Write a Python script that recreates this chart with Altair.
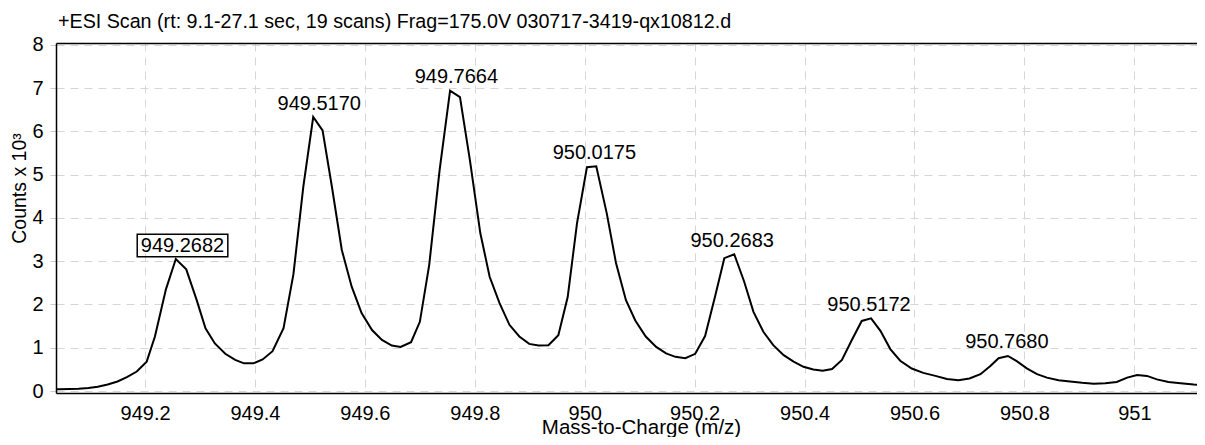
import altair as alt
import pandas as pd

mz = [949.038, 949.044, 949.062, 949.079, 949.097, 949.114, 949.132, 949.150, 949.167, 949.185,
      949.203, 949.218, 949.238, 949.256, 949.275, 949.294, 949.310, 949.327, 949.346, 949.364,
      949.380, 949.397, 949.414, 949.432, 949.452, 949.470, 949.488, 949.506, 949.523, 949.540,
      949.558, 949.576, 949.594, 949.613, 949.631, 949.649, 949.665, 949.684, 949.700, 949.717,
      949.736, 949.755, 949.773, 949.791, 949.810, 949.827, 949.845, 949.863, 949.881, 949.899,
      949.916, 949.934, 949.952, 949.969, 949.986, 950.004, 950.021, 950.040, 950.057, 950.075,
      950.092, 950.111, 950.130, 950.148, 950.165, 950.183, 950.201, 950.219, 950.237, 950.254,
      950.272, 950.290, 950.307, 950.325, 950.343, 950.362, 950.380, 950.398, 950.416, 950.433,
      950.450, 950.468, 950.486, 950.504, 950.521, 950.538, 950.556, 950.574, 950.595, 950.616,
      950.638, 950.659, 950.680, 950.700, 950.720, 950.738, 950.753, 950.770, 950.786, 950.805,
      950.823, 950.841, 950.862, 950.883, 950.905, 950.926, 950.947, 950.968, 950.987, 951.005,
      951.023, 951.041, 951.062, 951.084, 951.108, 951.129]
counts = [0.04, 0.04, 0.046, 0.054, 0.07, 0.10, 0.15, 0.22, 0.32, 0.45,
          0.68, 1.26, 2.35, 3.05, 2.81, 2.10, 1.45, 1.10, 0.86, 0.72,
          0.64, 0.64, 0.73, 0.92, 1.45, 2.70, 4.72, 6.33, 6.02, 4.72,
          3.26, 2.41, 1.80, 1.41, 1.18, 1.05, 1.02, 1.13, 1.60, 2.91,
          5.11, 6.94, 6.79, 5.34, 3.65, 2.64, 2.03, 1.53, 1.26, 1.09,
          1.05, 1.06, 1.29, 2.17, 3.88, 5.17, 5.19, 4.11, 2.95, 2.10,
          1.63, 1.26, 1.02, 0.87, 0.79, 0.76, 0.86, 1.27, 2.18, 3.07,
          3.16, 2.53, 1.83, 1.37, 1.06, 0.83, 0.68, 0.56, 0.50, 0.47,
          0.51, 0.72, 1.18, 1.62, 1.68, 1.39, 0.97, 0.70, 0.52, 0.42,
          0.35, 0.28, 0.25, 0.29, 0.39, 0.58, 0.76, 0.81, 0.69, 0.52,
          0.39, 0.31, 0.25, 0.22, 0.19, 0.17, 0.18, 0.21, 0.31, 0.37,
          0.35, 0.27, 0.21, 0.18, 0.15, 0.14]

peak_labels = ["949.2682", "949.5170", "949.7664", "950.0175", "950.2683", "950.5172", "950.7680"]
peak_mz = [949.2682, 949.5170, 949.7664, 950.0175, 950.2683, 950.5172, 950.7680]
peak_height = [3.05, 6.33, 6.94, 5.19, 3.16, 1.68, 0.81]
peak_boxed = [True, False, False, False, False, False, False]

x_ticks = [949.2, 949.4, 949.6, 949.8, 950.0, 950.2, 950.4, 950.6, 950.8, 951.0]
y_ticks = [0, 1, 2, 3, 4, 5, 6, 7, 8]
x_domain = [949.038, 951.114]
y_domain = [-0.045, 8.04]

title_text = "+ESI Scan (rt: 9.1-27.1 sec, 19 scans) Frag=175.0V 030717-3419-qx10812.d"
FONT = "Liberation Sans, Arial, sans-serif"

spec = pd.DataFrame({"mz": mz, "counts": counts})
peaks = pd.DataFrame({"label": peak_labels, "mz": peak_mz, "counts": peak_height, "boxed": peak_boxed})

x_scale = alt.Scale(domain=x_domain, nice=False, zero=False)
y_scale = alt.Scale(domain=y_domain, nice=False, zero=False)

x_main = alt.X("mz:Q", scale=x_scale,
               axis=alt.Axis(values=x_ticks, format="~r", title="Mass-to-Charge (m/z)",
                             tickSize=0, labelPadding=10, labelFontSize=20,
                             titleFontSize=20.5, titleFontWeight="normal",
                             titleX=585, titleY=40.5, titleBaseline="alphabetic", titleAlign="center",
                             labelFlush=False, domain=True, domainColor="black", domainWidth=1.5))
x_plain = alt.X("mz:Q", scale=x_scale, axis=None)
x_top = alt.X("mz:Q", scale=x_scale,
              axis=alt.Axis(orient="top", labels=False, ticks=False, grid=False, title=None,
                            domain=True, domainColor="black", domainWidth=1.5))
y_enc = alt.Y("counts:Q", scale=y_scale,
              axis=alt.Axis(values=y_ticks, format="d", title="Counts x 10³",
                            tickSize=6, tickColor="#cccccc", labelPadding=7, labelFontSize=20,
                            titleFontSize=19.5, titleFontWeight="normal",
                            titleX=-31, titleY=145, titleBaseline="alphabetic", titleAlign="center",
                            titleAngle=270, labelFlush=False,
                            domain=True, domainColor="black", domainWidth=1.5))

top_frame = alt.Chart(spec).mark_line(opacity=0).encode(x=x_top, y=y_enc)

line = alt.Chart(spec).mark_line(color="black", strokeWidth=2, clip=True).encode(x=x_main, y=y_enc)

labels = alt.Chart(peaks).mark_text(dy=-13.5, fontSize=20, font=FONT, color="black",
                                    baseline="middle", align="center").encode(
    x=x_plain, y=y_enc, text="label:N")

box = alt.Chart(peaks).transform_filter(alt.datum.boxed).mark_point(
    shape="M-1,-0.2505L1,-0.2505L1,0.2505L-1,0.2505Z", size=90.6 ** 2, filled=False,
    stroke="black", strokeWidth=1.5, opacity=1, yOffset=-13.5).encode(x=x_plain, y=y_enc)

chart = alt.layer(line, top_frame, box, labels).resolve_axis(x="independent").properties(
    width=1141, height=350,
    autosize=alt.AutoSizeParams(type="none"),
    padding={"left": 48, "top": 35, "right": 0, "bottom": 44},
    title=alt.TitleParams(text=title_text, anchor="start", frame="group", fontSize=19.7,
                          font=FONT, fontWeight="normal", color="black", offset=11,
                          baseline="alphabetic", dx=2, dy=24),
).configure_view(stroke=None).configure_axis(
    labelFont=FONT, titleFont=FONT, labelColor="black", titleColor="black",
    grid=True, gridColor="#d6d6d6", gridDash=[8, 6], gridWidth=1
)

chart.save("out.html", embed_options={"renderer": "svg", "actions": False})
